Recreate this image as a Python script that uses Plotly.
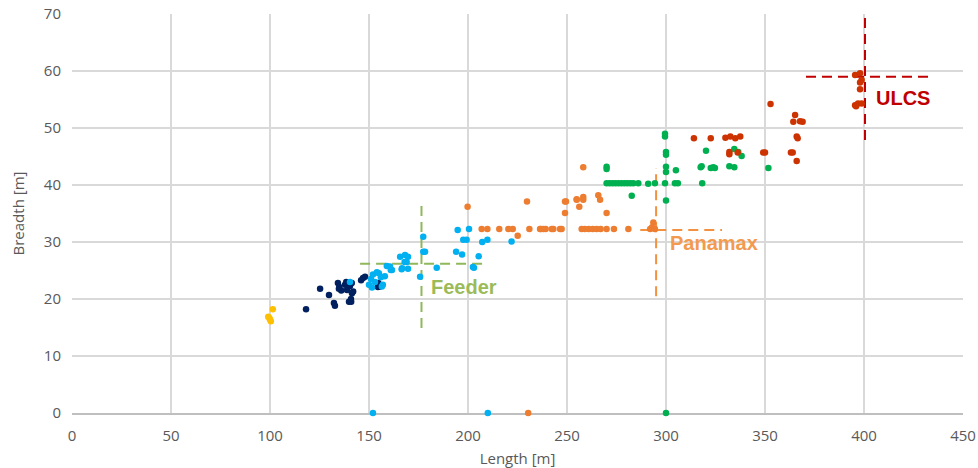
import plotly.graph_objects as go

# ---- data (Length [m], Breadth [m]) per vessel class ----
yellow_len = [101.4, 99.1, 100.0, 100.4, 99.6]
yellow_br = [18.2, 16.9, 16.4, 16.1, 16.7]

navy_len = [118.2, 125.3, 129.8, 132.3, 132.8, 134.3, 134.8, 137.9, 138.9, 140.4, 141.4, 140.9,
            139.9, 146.0, 148.0, 154.5, 136.0, 141.3, 142.0, 141.0, 147.0, 154.7, 155.5, 135.0, 138.5]
navy_br = [18.2, 21.8, 20.7, 19.3, 18.8, 22.8, 21.8, 22.5, 21.6, 22.3, 21.0, 20.0,
           19.5, 23.3, 23.9, 22.1, 21.5, 22.8, 21.3, 19.5, 23.7, 22.8, 22.2, 22.1, 23.0]

lblue_len = [140.4, 150.0, 151.0, 152.0, 153.0, 155.0, 156.0, 157.0, 158.0, 159.0, 161.0, 161.6,
             166.5, 165.7, 168.2, 169.0, 169.7, 168.0, 166.7, 175.8, 177.4, 177.4, 184.2, 194.0,
             197.0, 194.8, 200.5, 197.6, 199.3, 207.2, 209.8, 222.0, 205.4, 203.0, 202.5, 160.6,
             169.7, 178.3, 151.5, 154.0, 156.5, 152.0, 210.0]
lblue_br = [23.0, 22.5, 23.5, 24.3, 23.0, 24.5, 23.8, 22.5, 24.0, 25.8, 25.1, 25.1,
            25.2, 27.4, 27.7, 26.5, 25.3, 26.5, 25.4, 23.9, 28.3, 30.9, 25.5, 28.3,
            27.8, 32.1, 32.3, 30.4, 30.4, 30.0, 30.4, 30.1, 27.5, 25.5, 25.6, 25.7,
            27.4, 28.3, 22.0, 24.7, 22.2, 0.0, 0.0]

orange_len = [199.8, 206.9, 209.8, 215.8, 220.4, 222.6, 225.1, 231.0, 236.7, 239.2, 243.1, 246.5,
              229.8, 249.0, 254.9, 249.0, 258.2, 254.9, 258.2, 258.2, 265.8, 266.7, 256.2, 270.0,
              236.4, 238.0, 242.3, 247.3, 257.4, 259.0, 261.0, 263.0, 265.0, 267.0, 270.0, 273.7,
              281.0, 292.0, 293.0, 294.4, 293.6, 249.5, 230.4]
orange_br = [36.2, 32.3, 32.3, 32.3, 32.3, 32.3, 31.1, 32.3, 32.3, 32.3, 32.3, 32.3,
             37.1, 37.1, 37.4, 35.1, 43.1, 37.5, 37.9, 37.4, 38.2, 37.4, 36.2, 35.1,
             32.3, 32.3, 32.3, 32.3, 32.3, 32.3, 32.3, 32.3, 32.3, 32.3, 32.3, 32.3,
             32.3, 32.3, 32.6, 32.3, 33.4, 37.1, 0.0]

green_len = [270.0, 270.0, 271.5, 273.0, 274.5, 276.0, 277.5, 279.0, 280.5, 282.0, 283.5, 286.0,
             291.0, 294.4, 299.5, 304.5, 306.0, 282.7, 300.0, 299.5, 299.5, 300.0, 300.0, 300.0,
             300.0, 305.0, 318.0, 323.9, 318.3, 320.2, 317.5, 322.6, 324.7, 332.0, 334.5, 334.5,
             336.5, 338.2, 351.7, 270.0, 300.0]
green_br = [43.2, 40.3, 40.3, 40.3, 40.3, 40.3, 40.3, 40.3, 40.3, 40.3, 40.3, 40.3,
            40.2, 40.3, 40.3, 40.3, 40.3, 38.1, 37.3, 49.0, 48.5, 45.8, 45.3, 43.2,
            42.3, 42.6, 43.3, 43.1, 40.3, 46.0, 43.1, 43.0, 43.0, 43.3, 43.1, 46.3,
            45.8, 45.1, 43.0, 42.8, 0.0]

red_len = [314.1, 322.6, 330.0, 332.5, 335.0, 337.5, 332.0, 332.0, 336.2, 349.1, 350.0, 363.1,
           364.0, 366.0, 366.0, 366.5, 352.8, 365.2, 364.3, 367.7, 369.0, 395.5, 398.0, 398.8,
           398.0, 398.0, 395.5, 397.0, 398.8, 396.0]
red_br = [48.2, 48.2, 48.3, 48.5, 48.2, 48.5, 45.8, 45.4, 45.7, 45.7, 45.7, 45.7,
          45.7, 44.2, 48.5, 48.2, 54.2, 52.3, 51.1, 51.2, 51.1, 59.3, 59.6, 58.4,
          56.8, 58.0, 54.0, 54.3, 54.3, 53.8]

# ---- class boundary guide values ----
class_names = ["Feeder", "Panamax", "ULCS"]
class_len = [176.5, 295.0, 400.5]          # vertical guide at length
class_len_span = [(14.9, 36.9), (20.5, 43.0), (47.9, 70.0)]
class_br = [26.2, 32.1, 59.0]              # horizontal guide at breadth
class_br_span = [(145.5, 209.6), (287.0, 328.3), (370.7, 434.2)]
label_pos = [(198.0, 22.1), (324.0, 29.8), (419.7, 55.3)]
line_colors = ["#8FB85A", "#F2913F", "#C00000"]
label_colors = ["#9BBB59", "#F39A4F", "#C00000"]

tick_vals_x = [0, 50, 100, 150, 200, 250, 300, 350, 400, 450]
tick_vals_y = [0, 10, 20, 30, 40, 50, 60, 70]

fig = go.Figure()

series = [
    (yellow_len, yellow_br, "#FFC000"),
    (navy_len, navy_br, "#002060"),
    (lblue_len, lblue_br, "#00B0F0"),
    (orange_len, orange_br, "#ED7D31"),
    (green_len, green_br, "#00B050"),
    (red_len, red_br, "#CC3300"),
]

for i in range(3):
    fig.add_trace(go.Scatter(
        x=[class_len[i], class_len[i]], y=list(class_len_span[i]), mode="lines",
        line=dict(color=line_colors[i], width=2, dash="10px,6px"),
        hoverinfo="skip", showlegend=False))
    fig.add_trace(go.Scatter(
        x=list(class_br_span[i]), y=[class_br[i], class_br[i]], mode="lines",
        line=dict(color=line_colors[i], width=2, dash="10px,6px"),
        hoverinfo="skip", showlegend=False))

for xs, ys, c in series:
    fig.add_trace(go.Scatter(
        x=xs, y=ys, mode="markers", cliponaxis=False,
        marker=dict(color=c, size=6.5, line=dict(width=0)),
        showlegend=False))

for i in range(3):
    fig.add_annotation(
        x=label_pos[i][0], y=label_pos[i][1], text="<b>%s</b>" % class_names[i],
        showarrow=False, font=dict(family="Liberation Sans, Arial", size=20, color=label_colors[i]),
        xanchor="center", yanchor="middle")

font_fam = "Open Sans, Arial, sans-serif"
fig.update_layout(
    width=978, height=468,
    margin=dict(l=72, r=15, t=14, b=55),
    plot_bgcolor="white", paper_bgcolor="white",
    font=dict(family=font_fam, size=15, color="#595959"),
    xaxis=dict(
        range=[0, 450], tickvals=tick_vals_x, showgrid=True, gridcolor="#D9D9D9", gridwidth=1.5,
        zeroline=False, showline=True, linecolor="#BFBFBF", linewidth=2, layer="below traces",
        ticks="", ticklabelstandoff=8, automargin=False, ticklabeloverflow="allow",
        title=dict(text="Length [m]", font=dict(size=15, color="#595959")),
        tickfont=dict(size=15, color="#595959")),
    yaxis=dict(
        range=[0, 70], tickvals=tick_vals_y, showgrid=True, gridcolor="#D9D9D9", gridwidth=1.5,
        zeroline=False, showline=False, layer="below traces",
        ticks="", ticklabelstandoff=10, automargin=False, ticklabeloverflow="allow",
        title=dict(text="Breadth [m]", font=dict(size=15, color="#595959")),
        tickfont=dict(size=15, color="#595959")),
)

# remove the browser's default 8px body margin so the figure fills the window exactly
fig.write_html("out.html", config={"displayModeBar": False},
               post_script="document.body.style.margin='0';")
